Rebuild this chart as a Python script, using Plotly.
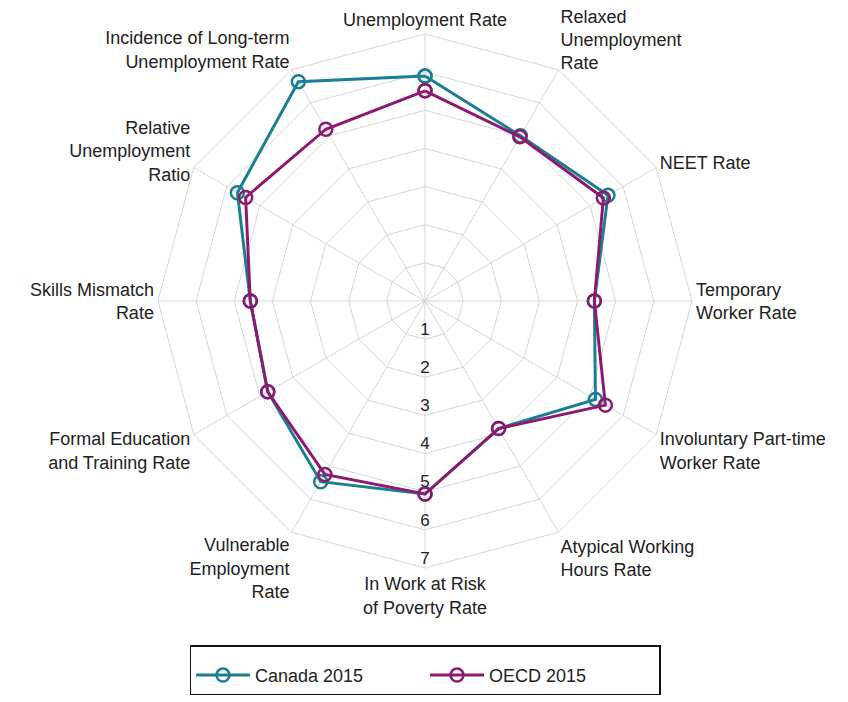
import plotly.graph_objects as go

categories = [
    "Unemployment Rate",
    "Relaxed<br>Unemployment<br>Rate",
    "NEET Rate",
    "Temporary<br>Worker Rate",
    "Involuntary Part-time<br>Worker Rate",
    "Atypical Working<br>Hours Rate",
    "In Work at Risk<br>of Poverty Rate",
    "Vulnerable<br>Employment<br>Rate",
    "Formal Education<br>and Training Rate",
    "Skills Mismatch<br>Rate",
    "Relative<br>Unemployment<br>Ratio",
    "Incidence of Long-term<br>Unemployment Rate",
]
canada_2015 = [5.9, 5.0, 5.54, 4.44, 5.16, 3.86, 5.06, 5.47, 4.76, 4.58, 5.68, 6.64]
oecd_2015 = [5.51, 4.97, 5.4, 4.44, 5.46, 3.86, 5.06, 5.25, 4.76, 4.58, 5.43, 5.2]
radial_ticks = [1, 2, 3, 4, 5, 6, 7]

FONT = "Liberation Sans, Arial, sans-serif"
TEAL = "#1a7f92"
PURPLE = "#8b1a70"
GRID = "#d6d6d6"
TXT = "#222222"

W, H = 848, 760
OFF = 8  # page body margin
CX, CY, R = 425, 301, 267  # screen px

fig = go.Figure()

def closed(v):
    return list(v) + [v[0]]

for name, vals, col in [("Canada 2015", canada_2015, TEAL), ("OECD 2015", oecd_2015, PURPLE)]:
    fig.add_trace(go.Scatterpolar(
        r=closed(vals), theta=closed(categories), name=name,
        mode="lines+markers",
        line=dict(color=col, width=3),
        marker=dict(symbol="circle-open", size=13, color=col, line=dict(width=2.5, color=col)),
    ))

fig.add_trace(go.Scatterpolar(
    r=radial_ticks, theta=[categories[6]] * len(radial_ticks),
    mode="text", text=[str(t) for t in radial_ticks], textposition="top center",
    textfont=dict(family=FONT, size=17, color=TXT),
    showlegend=False, hoverinfo="skip",
))

fig.update_layout(
    width=W, height=H,
    margin=dict(l=0, r=0, t=0, b=0),
    paper_bgcolor="white", plot_bgcolor="white",
    font=dict(family=FONT, size=18, color=TXT),
    polar=dict(
        domain=dict(x=[(CX - R - OFF) / W, (CX + R - OFF) / W],
                    y=[1 - (CY + R - OFF) / H, 1 - (CY - R - OFF) / H]),
        bgcolor="white",
        gridshape="linear",
        radialaxis=dict(range=[0, 7], tickvals=radial_ticks, showticklabels=False,
                        showline=False, ticks="", gridcolor=GRID, gridwidth=1, angle=-90),
        angularaxis=dict(direction="clockwise", rotation=90, showline=True,
                         linecolor=GRID, linewidth=1, gridcolor=GRID, ticks="",
                         tickfont=dict(family=FONT, size=18, color=TXT)),
    ),
    legend=dict(orientation="h", x=(425 - OFF) / W, xanchor="center",
                y=1 - (645 - OFF) / H, yanchor="top",
                bordercolor="#111111", borderwidth=1.5, bgcolor="white",
                title=dict(text=" ", font=dict(size=8), side="top"),
                font=dict(family=FONT, size=18, color=TXT),
                entrywidth=165, itemwidth=54),
)

fig.write_html("out.html")
